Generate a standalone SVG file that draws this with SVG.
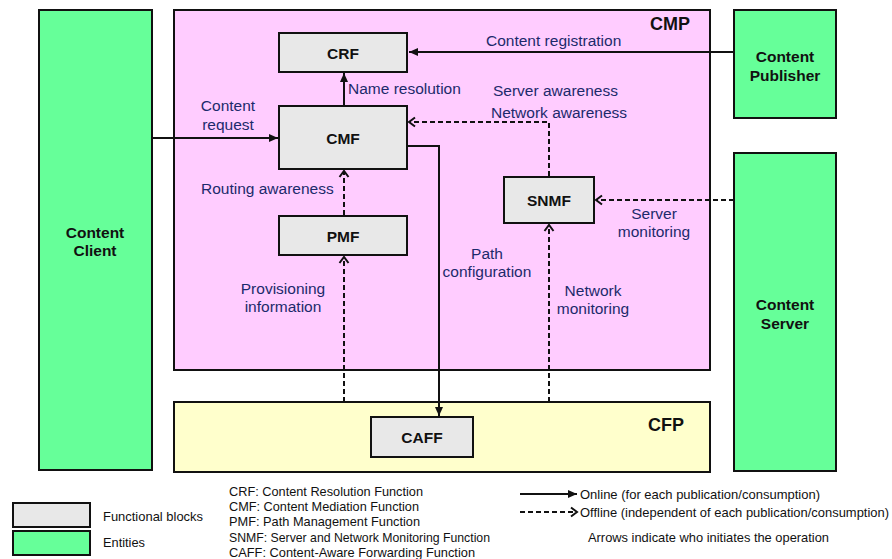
<svg xmlns="http://www.w3.org/2000/svg" width="892" height="559" viewBox="0 0 892 559">
  <style>
    .block { fill: #E8E8E8; stroke: #111; stroke-width: 2; }
    .entity { fill: #66FF99; stroke: #111; stroke-width: 2; }
    .plane-cmp { fill: #FFCCFF; stroke: #111; stroke-width: 2; }
    .plane-cfp { fill: #FFFFCC; stroke: #111; stroke-width: 2; }
    .name { font-family: "Liberation Sans", Arial, sans-serif; font-weight: bold; font-size: 15.5px; fill: #111; text-anchor: middle; dominant-baseline: central; }
    .plane { font-family: "Liberation Sans", Arial, sans-serif; font-weight: bold; font-size: 18px; fill: #111; dominant-baseline: central; }
    .lbl { font-family: "Liberation Sans", Arial, sans-serif; font-size: 15.5px; fill: #1C2A6B; dominant-baseline: central; }
    .mid { text-anchor: middle; }
    .legend { font-family: "Liberation Sans", Arial, sans-serif; font-size: 13px; fill: #111; dominant-baseline: central; }
    .online { fill: none; stroke: #111; stroke-width: 2; marker-end: url(#solidHead); }
    .offline { fill: none; stroke: #111; stroke-width: 2; stroke-dasharray: 5 3; marker-end: url(#openHead); }
  </style>
  <defs>
    <marker id="solidHead" markerUnits="userSpaceOnUse" markerWidth="12" markerHeight="12" viewBox="0 0 12 12" refX="10" refY="6" orient="auto">
      <path d="M1,2 L10,6 L1,10 Z" fill="#111"/>
    </marker>
    <marker id="openHead" markerUnits="userSpaceOnUse" markerWidth="12" markerHeight="12" viewBox="0 0 12 12" refX="10" refY="6" orient="auto">
      <path d="M4,1.5 L10,6 L4,10.5" fill="none" stroke="#111" stroke-width="2"/>
    </marker>
  </defs>

  <!-- planes -->
  <g id="cmp">
    <rect class="plane-cmp" x="174" y="10" width="536" height="360"/>
    <text class="plane" x="650" y="24">CMP</text>
  </g>
  <g id="cfp">
    <rect class="plane-cfp" x="174" y="402" width="536" height="70"/>
    <text class="plane" x="648" y="425">CFP</text>
  </g>

  <!-- entities -->
  <g id="content-client">
    <rect class="entity" x="39" y="10" width="113" height="460"/>
    <text class="name" x="95" y="232">Content</text>
    <text class="name" x="95" y="250">Client</text>
  </g>
  <g id="content-publisher">
    <rect class="entity" x="734" y="10" width="102" height="108"/>
    <text class="name" x="785" y="56">Content</text>
    <text class="name" x="785" y="75">Publisher</text>
  </g>
  <g id="content-server">
    <rect class="entity" x="734" y="153" width="102" height="318"/>
    <text class="name" x="785" y="304">Content</text>
    <text class="name" x="785" y="323">Server</text>
  </g>

  <!-- functional blocks -->
  <g id="crf">
    <rect class="block" x="279" y="33" width="128" height="39"/>
    <text class="name" x="343" y="53">CRF</text>
  </g>
  <g id="cmf">
    <rect class="block" x="279" y="106" width="128" height="63"/>
    <text class="name" x="343" y="138">CMF</text>
  </g>
  <g id="pmf">
    <rect class="block" x="279" y="216" width="128" height="39"/>
    <text class="name" x="343" y="236">PMF</text>
  </g>
  <g id="snmf">
    <rect class="block" x="504" y="177" width="90" height="46"/>
    <text class="name" x="549" y="200">SNMF</text>
  </g>
  <g id="caff">
    <rect class="block" x="371" y="417" width="102" height="40"/>
    <text class="name" x="422" y="437">CAFF</text>
  </g>

  <!-- connectors -->
  <g id="connectors">
    <path class="online" d="M734,52 H409"/>
    <path class="online" d="M152,138 H278"/>
    <path class="online" d="M344,106 V73"/>
    <path class="online" d="M408,146 H439 V416"/>
    <path class="offline" d="M549,176 V122 H409"/>
    <path class="offline" d="M734,200 H596"/>
    <path class="offline" d="M344,215 V171"/>
    <path class="offline" d="M344,402 V257"/>
    <path class="offline" d="M549,402 V225"/>
  </g>

  <!-- connector labels -->
  <g id="labels">
    <text class="lbl" x="486" y="40">Content registration</text>
    <text class="lbl" x="348" y="88">Name resolution</text>
    <text class="lbl" x="493" y="90">Server awareness</text>
    <text class="lbl" x="491" y="112">Network awareness</text>
    <text class="lbl mid" x="228" y="105">Content</text>
    <text class="lbl mid" x="228" y="124">request</text>
    <text class="lbl" x="201" y="188">Routing awareness</text>
    <text class="lbl mid" x="283" y="288">Provisioning</text>
    <text class="lbl mid" x="283" y="306">information</text>
    <text class="lbl mid" x="487" y="253">Path</text>
    <text class="lbl mid" x="487" y="271">configuration</text>
    <text class="lbl mid" x="654" y="213">Server</text>
    <text class="lbl mid" x="654" y="231">monitoring</text>
    <text class="lbl mid" x="593" y="290">Network</text>
    <text class="lbl mid" x="593" y="308">monitoring</text>
  </g>

  <!-- legend -->
  <g id="legend">
    <rect class="block" x="13" y="503" width="77" height="24"/>
    <rect class="entity" x="13" y="531" width="77" height="24"/>
    <text class="legend" x="103" y="516" textLength="100" lengthAdjust="spacingAndGlyphs">Functional blocks</text>
    <text class="legend" x="103" y="542" textLength="42" lengthAdjust="spacingAndGlyphs">Entities</text>
    <text class="legend" x="229" y="491" textLength="194" lengthAdjust="spacingAndGlyphs">CRF: Content Resolution Function</text>
    <text class="legend" x="229" y="506" textLength="190" lengthAdjust="spacingAndGlyphs">CMF: Content Mediation Function</text>
    <text class="legend" x="229" y="521" textLength="191" lengthAdjust="spacingAndGlyphs">PMF: Path Management Function</text>
    <text class="legend" x="229" y="537" textLength="261" lengthAdjust="spacingAndGlyphs">SNMF: Server and Network Monitoring Function</text>
    <text class="legend" x="229" y="552" textLength="246" lengthAdjust="spacingAndGlyphs">CAFF: Content-Aware Forwarding Function</text>
    <path class="online" d="M520,494 H577"/>
    <path class="offline" d="M520,512 H577"/>
    <text class="legend" x="580" y="494" textLength="240" lengthAdjust="spacingAndGlyphs">Online (for each publication/consumption)</text>
    <text class="legend" x="580" y="512" textLength="309" lengthAdjust="spacingAndGlyphs">Offline (independent of each publication/consumption)</text>
    <text class="legend" x="588" y="537" textLength="241" lengthAdjust="spacingAndGlyphs">Arrows indicate who initiates the operation</text>
  </g>
</svg>
